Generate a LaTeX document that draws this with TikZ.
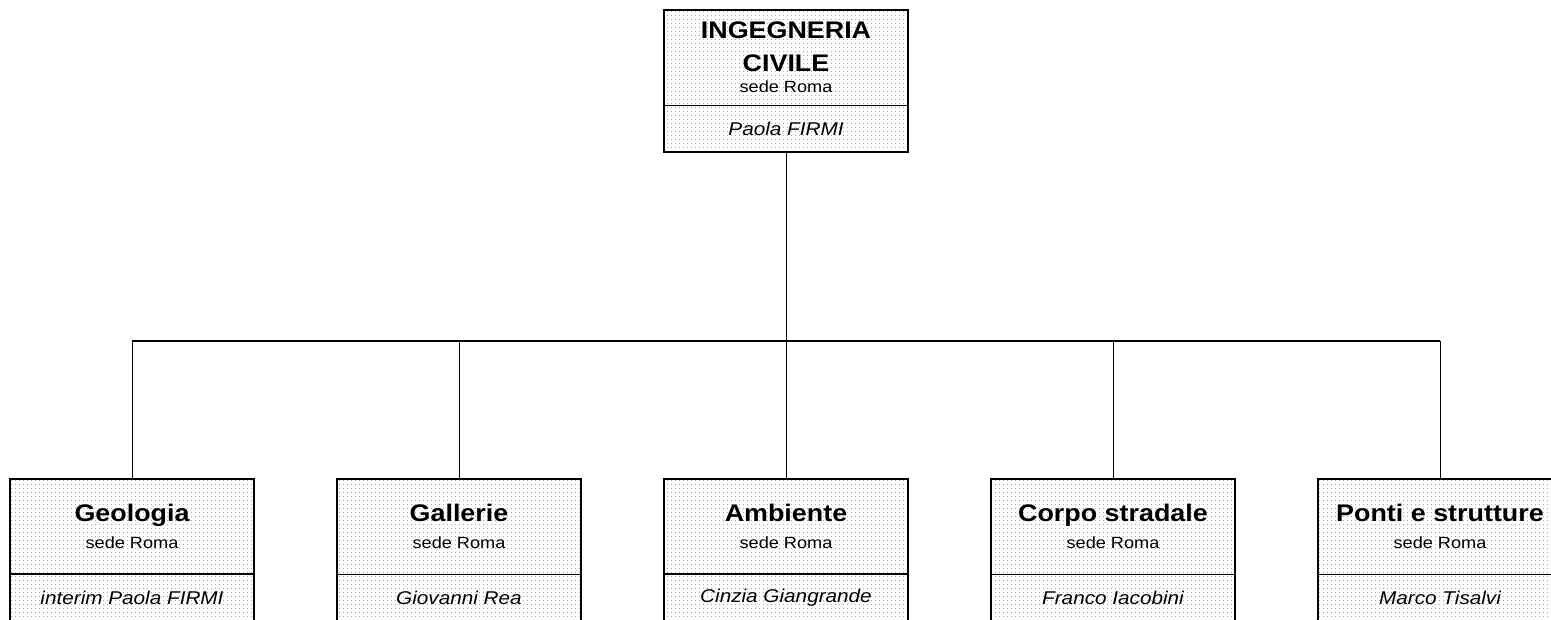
\documentclass[tikz,border=0pt]{standalone}
\usepackage{fontspec}
\setmainfont[FakeStretch=1.12]{Liberation Sans}
\usetikzlibrary{positioning,patterns.meta}

\newcommand\unitname{\fontsize{24}{21}\selectfont\bfseries}
\newcommand\unitsite{\fontsize{16.2}{21}\selectfont}
\newcommand\unithead{\fontsize{18.5}{21}\selectfont\itshape}

\begin{document}
\begin{tikzpicture}[x=1pt,y=1pt,
  unit/.style={draw,line width=1pt,outer sep=0pt,inner sep=0pt,minimum width=244pt,minimum height=95pt,align=center,font=\unitsite,pattern={Dots[distance=4pt,radius=0.55pt]},pattern color=black!60},
  head/.style={unit,minimum height=47pt,font=\unithead},
  frame/.style={line width=2.4pt},
  link/.style={line width=0.9pt},
  bar/.style={line width=2.4pt}]
\path[use as bounding box,clip] (0,0) rectangle (1551,-619);
% direzione
\node[unit,anchor=north] (civ) at (786,-10) {{\unitname INGEGNERIA}\\[12pt]{\unitname CIVILE}\\{\unitsite sede Roma}};
\node[head,below=0pt of civ] (whociv) {Paola FIRMI};
\draw[frame] (civ.north west) rectangle (whociv.south east);
\coordinate (bus) at (786,-341);
\draw[link] (whociv.south) -- (bus);
% settori
\foreach \x/\n/\t/\p/\w in %
{132/geo/Geologia/interim Paola FIRMI/2.4pt,
 459/gal/Gallerie/Giovanni Rea/1pt,
 786/amb/Ambiente/Cinzia Giangrande/2.4pt,
 1113/cor/Corpo stradale/Franco Iacobini/1pt,
 1440/pon/Ponti e strutture/Marco Tisalvi/1pt} {
   \node[unit,anchor=north] (\n) at (\x,-479) {{\unitname \t}\\[5.5pt]{\unitsite sede Roma}};
   \node[head,below=0pt of \n] (who\n) {\p};
   \draw[line width=\w] (\n.south west) -- (\n.south east);
   \draw[frame] (\n.north west) rectangle (who\n.south east);
   \draw[link] (bus -| \n.north) -- (\n.north);
}
\draw[bar] (bus -| geo.north) -- (bus -| pon.north);
\end{tikzpicture}
\end{document}
